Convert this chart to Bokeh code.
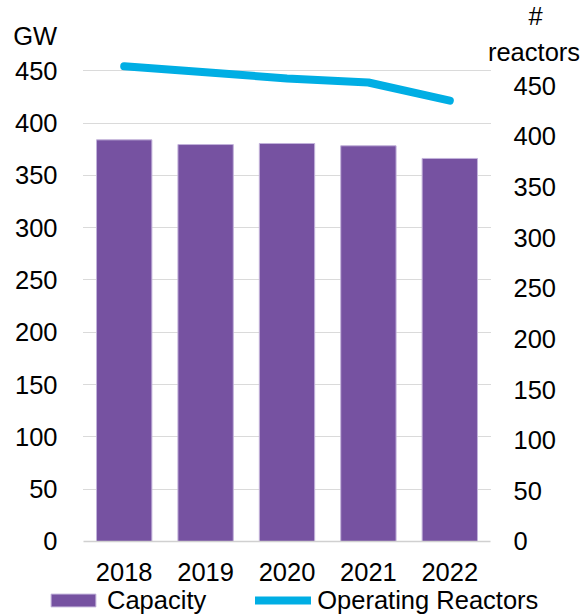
from bokeh.plotting import figure
from bokeh.models import (Range1d, LinearAxis, FixedTicker, Label, Legend,
                          LegendItem)
from bokeh.embed import file_html
from bokeh.resources import INLINE

years = ["2018", "2019", "2020", "2021", "2022"]
capacity_gw = [384.0, 379.5, 380.5, 378.3, 366.2]
operating_reactors = [469, 463, 457, 453, 435]
left_ticks = [0, 50, 100, 150, 200, 250, 300, 350, 400, 450]
right_ticks = [0, 50, 100, 150, 200, 250, 300, 350, 400, 450]

FONT = "Liberation Sans"
FS = "25.5px"
BAR = "#7652A1"
LINE = "#00AEE4"

n = len(years)
xpos = [i + 0.5 for i in range(n)]

p = figure(x_range=Range1d(-1.0197, n + 1.1425),
           y_range=Range1d(-70.75, 517.2), width=583, height=615,
           output_backend="svg", toolbar_location=None,
           min_border=0, min_border_left=0, min_border_right=0,
           min_border_top=0, min_border_bottom=0)
p.extra_y_ranges = {"reactors": Range1d(-73.03, 533.9)}
p.outline_line_color = None
p.background_fill_color = "white"
p.border_fill_color = "white"
p.title.visible = False

bars = p.vbar(x=xpos, top=capacity_gw, width=0.68, fill_color=BAR,
              line_color="#C2B2DA", line_width=1)
line = p.line(x=xpos, y=operating_reactors, y_range_name="reactors",
              line_width=8, line_color=LINE, line_cap="round",
              line_join="round")

# left axis
ya = p.yaxis[0]
ya.fixed_location = 0
ya.ticker = FixedTicker(ticks=left_ticks)
ya.axis_line_color = None
ya.major_tick_line_color = None
ya.minor_tick_line_color = None
ya.major_tick_out = 0
ya.major_tick_in = 0
ya.major_label_standoff = 26
ya.major_label_text_font = FONT
ya.major_label_text_font_size = FS
ya.major_label_text_color = "black"

# right axis
ra = LinearAxis(y_range_name="reactors", ticker=FixedTicker(ticks=right_ticks),
                fixed_location=n)
ra.axis_line_color = None
ra.major_tick_line_color = None
ra.minor_tick_line_color = None
ra.major_tick_out = 0
ra.major_tick_in = 0
ra.major_label_standoff = 23
ra.major_label_text_font = FONT
ra.major_label_text_font_size = FS
ra.major_label_text_color = "black"
p.add_layout(ra, "right")

# x axis
xa = p.xaxis[0]
xa.fixed_location = 0
xa.bounds = (0, n)
xa.ticker = FixedTicker(ticks=xpos)
xa.major_label_overrides = {x: y for x, y in zip(xpos, years)}
xa.axis_line_color = "#D0D0D0"
xa.axis_line_width = 1.5
xa.major_tick_line_color = None
xa.minor_tick_line_color = None
xa.major_tick_out = 0
xa.major_tick_in = 0
xa.major_label_standoff = 22
xa.major_label_text_font = FONT
xa.major_label_text_font_size = FS
xa.major_label_text_color = "black"

p.xgrid.grid_line_color = None
yg = p.ygrid[0]
yg.ticker = FixedTicker(ticks=left_ticks[1:])
yg.grid_line_color = "#B5B5B5"
yg.grid_line_dash = "1 1"
yg.grid_line_width = 1
try:
    yg.cross_bounds = (0, n)
except Exception:
    yg.grid_line_color = None
    p.segment(x0=[0] * 9, x1=[n] * 9, y0=left_ticks[1:], y1=left_ticks[1:],
              line_color="#B5B5B5", line_dash="1 1", line_width=1,
              level="underlay")

# axis titles
p.add_layout(Label(x=0, y=450, x_offset=-70.3, y_offset=35, text="GW",
                   text_align="left", text_baseline="alphabetic",
                   text_font=FONT, text_font_size=FS, text_color="black"))
p.add_layout(Label(x=n, y=450, x_offset=45, y_offset=55, text="#",
                   text_align="center", text_baseline="alphabetic",
                   text_font=FONT, text_font_size=FS, text_color="black"))
p.add_layout(Label(x=n, y=450, x_offset=43.5, y_offset=18.3, text="reactors",
                   text_align="center", text_baseline="alphabetic",
                   text_font=FONT, text_font_size=FS, text_color="black"))

legend = Legend(items=[LegendItem(label="Capacity", renderers=[bars]),
                       LegendItem(label="Operating Reactors", renderers=[line])],
                orientation="horizontal", location=(45, 0),
                glyph_width=56, glyph_height=16, label_standoff=6, spacing=49,
                label_height=30, padding=0, margin=0, border_line_alpha=0,
                background_fill_alpha=0, label_text_font=FONT,
                label_text_font_size=FS, label_text_color="black")
p.add_layout(legend)

open("out.html", "w").write(file_html(p, INLINE))
